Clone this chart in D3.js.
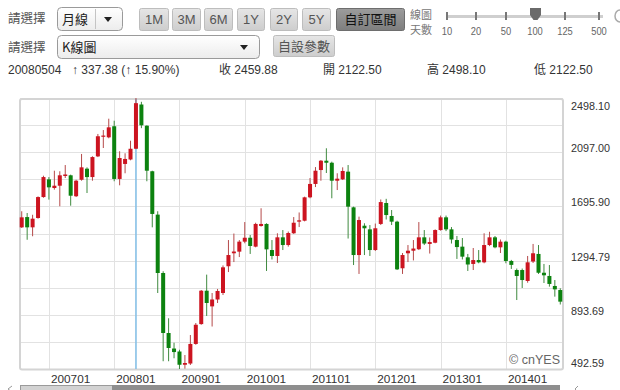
<!DOCTYPE html>
<html><head><meta charset="utf-8">
<script src="https://cdn.jsdelivr.net/npm/d3@7/dist/d3.min.js"></script>
<style>
html,body{margin:0;padding:0;background:#fff;}
svg{display:block;}
text{font-family:"Liberation Sans",Arial,"Noto Sans CJK TC",sans-serif;}
.cjk{font-family:"Noto Sans CJK TC","Liberation Sans",sans-serif;}
</style></head><body>
<svg id="c" width="620" height="390"></svg>
<script>
// ---------- data ----------
const months = ["200608","200609","200610","200611","200612",
"200701","200702","200703","200704","200705","200706","200707","200708","200709","200710","200711","200712",
"200801","200802","200803","200804","200805","200806","200807","200808","200809","200810","200811","200812",
"200901","200902","200903","200904","200905","200906","200907","200908","200909","200910","200911","200912",
"201001","201002","201003","201004","201005","201006","201007","201008","201009","201010","201011","201012",
"201101","201102","201103","201104","201105","201106","201107","201108","201109","201110","201111","201112",
"201201","201202","201203","201204","201205","201206","201207","201208","201209","201210","201211","201212",
"201301","201302","201303","201304","201305","201306","201307","201308","201309","201310","201311","201312",
"201401","201402","201403","201404","201405","201406","201407","201408","201409","201410","201411"];
const openV  = [1541,1617,1541,1610,1765,1896,1832,1849,1921,1926,1771,1893,1975,1913,2066,2214,2207,2289,1899,2010,2043,2122.5,2450,2293,1956,1635,1203,759,644,622,524,533,678,825,1072,956,1007,1055,1253,1349,1361,1435,1464,1398,1551,1566,1373,1329,1467,1410,1497,1583,1590,1763,1862,1965,2034,2019,1886,1896,1953,1689,1336,1553,1526,1373,1566,1721,1625,1583,1238,1349,1368,1379,1467,1418,1427,1521,1615,1526,1447,1398,1319,1270,1299,1282,1410,1467,1393,1435,1292,1225,1225,1144,1288,1344,1205,1181,1107,1077];
const highV  = [1660,1647,1634,1770,1923,1913,1960,1956,2002,1931,1893,2084,1985,2067,2232,2261,2345,2330,2104,2089,2182,2498.10,2470,2296,1960,1660,1216,868,687,635,596,744,833,1077,1191,1055,1085,1259,1447,1495,1447,1580,1484,1575,1682,1571,1447,1497,1521,1510,1617,1651,1768,1906,1987,2039,2126,2027,1941,1985,2002,1694,1620,1571,1558,1569,1747,1752,1669,1590,1351,1410,1447,1580,1521,1466,1526,1628,1628,1543,1477,1462,1344,1388,1373,1497,1508,1477,1451,1442,1300,1236,1236,1329,1418,1410,1270,1262,1151,1090];
const lowV   = [1536,1449,1475,1605,1760,1746,1820,1697,1906,1701,1765,1886,1795,1886,2061,2128,2200,1882,1852,1941,2037,2122.5,2275,1882,1541,1055,550,550,572,492.59,495,522,672,820,885,807,981,1040,1210,1284,1321,1423,1344,1393,1546,1218,1303,1277,1373,1398,1492,1543,1585,1756,1839,1886,1943,1756,1817,1891,1458,1262,1196,1336,1329,1366,1558,1599,1558,1225,1196,1284,1296,1373,1410,1347,1423,1516,1513,1421,1307,1303,1218,1225,1275,1275,1402,1386,1351,1275,1233,1003,1092,1131,1277,1196,1129,1102,1028,970];
const closeV = [1615,1541,1605,1765,1913,1837,1849,1926,1932,1775,1886,1985,1913,2061,2215,2220,2281,1899,2054,2047,2122.5,2459.88,2296,1960,1640,1203,759,648,618,524,537,678,820,1072,981,1007,1070,1245,1336,1362,1435,1464,1403,1566,1566,1378,1329,1467,1410,1499,1575,1593,1763,1862,1960,2034,2019,1886,1901,1958,1694,1336,1595,1534,1373,1534,1728,1632,1583,1230,1336,1368,1384,1467,1421,1432,1521,1615,1526,1451,1395,1324,1266,1299,1282,1410,1467,1393,1435,1292,1263,1181,1151,1282,1349,1205,1186,1122,1082,991];
const yTickValues = [2498.10, 2097.00, 1695.90, 1294.79, 893.69, 492.59];
const yTickLabels = ["2498.10","2097.00","1695.90","1294.79","893.69","492.59"];
const xTickLabels = ["200701","200801","200901","201001","201101","201201","201301","201401"];
const selectedMonth = "200805";
const infoDate = "20080504";
const infoChange = "↑ 337.38 (↑ 15.90%)";
const infoClose = "收 2459.88", infoOpen = "開 2122.50", infoHigh = "高 2498.10", infoLow = "低 2122.50";
const periodButtons = ["1M","3M","6M","1Y","2Y","5Y"];
const sliderLabels = ["10","20","50","100","125","500"];

// ---------- setup ----------
const svg = d3.select("#c");
const defs = svg.append("defs");
function grad(id, c1, c2){
  const g = defs.append("linearGradient").attr("id",id).attr("x1",0).attr("y1",0).attr("x2",0).attr("y2",1);
  g.append("stop").attr("offset","0%").attr("stop-color",c1);
  g.append("stop").attr("offset","100%").attr("stop-color",c2);
}
grad("gBtn","#e6e6e6","#cdcdcd");
grad("gBtnDark","#9c9c9c","#7e7e7e");
grad("gSel","#ffffff","#ececec");

// ---------- toolbar ----------
const tb = svg.append("g");
function label(x,y,t,size,fill,cls,anchor){
  return tb.append("text").attr("x",x).attr("y",y).text(t).attr("font-size",size).attr("fill",fill)
    .attr("class",cls||null).attr("text-anchor",anchor||"start");
}
function arrow(ax,ay){
  tb.append("path").attr("d",`M${ax-4},${ay-2}L${ax+4},${ay-2}L${ax},${ay+3}Z`).attr("fill","#222");
}
// row 1
label(8,23,"請選擇",12.5,"#555","cjk");
tb.append("rect").attr("x",57.5).attr("y",7.5).attr("width",65).attr("height",23).attr("rx",4)
  .attr("fill","url(#gSel)").attr("stroke","#9a9a9a");
label(62,23.5,"月線",13,"#222","cjk");
tb.append("line").attr("x1",95.5).attr("x2",95.5).attr("y1",9).attr("y2",29).attr("stroke","#c4c4c4");
arrow(108,19);
const btnX = [[139,168],[172,200],[204,232],[237,264],[270,297],[302,330]];
periodButtons.forEach((b,i)=>{
  const [a,c] = btnX[i];
  tb.append("rect").attr("x",a+0.5).attr("y",8.5).attr("width",c-a).attr("height",22).attr("rx",2)
    .attr("fill","url(#gBtn)").attr("stroke","#bdbdbd");
  label((a+c)/2+0.5,24,b,13,"#555",null,"middle");
});
tb.append("rect").attr("x",336.5).attr("y",8.5).attr("width",68).attr("height",22).attr("rx",2)
  .attr("fill","url(#gBtnDark)").attr("stroke","#6e6e6e");
label(370.5,24,"自訂區間",13,"#111","cjk","middle");
label(410,19,"線圖",11,"#777","cjk");
label(410,33.5,"天數",11,"#777","cjk");
// slider
const sliderX = [447,476,506,535,565,599];
tb.append("rect").attr("x",446).attr("y",15).attr("width",157).attr("height",3).attr("fill","#cfcfcf");
sliderX.forEach((sx,i)=>{
  tb.append("rect").attr("x",sx-1).attr("y",12).attr("width",2).attr("height",8).attr("fill","#777");
  tb.append("text").attr("x",sx).attr("y",35).attr("text-anchor","middle").attr("font-size",10.5)
    .attr("fill","#666").attr("textLength",sliderLabels[i].length*5.2).attr("lengthAdjust","spacingAndGlyphs")
    .text(sliderLabels[i]);
});
tb.append("path").attr("d","M530,8L541,8L541,15L537.5,20L533.5,20L530,15Z").attr("fill","#6a6a6a");
tb.append("path").attr("d","M620,10A5,6 0 0 0 620,22").attr("fill","none").attr("stroke","#aaa").attr("stroke-width",1.5);
// row 2
label(8,52,"請選擇",12.5,"#555","cjk");
tb.append("rect").attr("x",57.5).attr("y",35.5).attr("width",202).attr("height",23).attr("rx",4)
  .attr("fill","url(#gSel)").attr("stroke","#9a9a9a");
label(62,52,"K線圖",13,"#222","cjk");
arrow(244,47);
tb.append("rect").attr("x",273.5).attr("y",35.5).attr("width",61).attr("height",21).attr("rx",2)
  .attr("fill","url(#gBtn)").attr("stroke","#bdbdbd");
label(304,51,"自設參數",13,"#555","cjk","middle");
// row 3
label(8,74,infoDate,12,"#333");
label(72,74,infoChange,12,"#333");
label(219,74,infoClose,12,"#333");
label(323,74,infoOpen,12,"#333");
label(427,74,infoHigh,12,"#333");
label(534,74,infoLow,12,"#333");

// ---------- chart ----------
const pL = 20, pR = 563, pT = 99, pB = 369;
const x = d3.scaleBand().domain(months).range([19, 563]).padding(0);
const y = d3.scaleLinear().domain([492.59, 2498.10]).range([369, 98]);
const cx = m => x(m) + x.bandwidth()/2;

const chart = svg.append("g");
const gridVals = d3.range(11).map(k => 492.59 + k*(2498.10-492.59)/10);
chart.selectAll(".hg").data(gridVals).join("line")
  .attr("x1",pL).attr("x2",pR)
  .attr("y1",d=>Math.round(y(d))+0.5).attr("y2",d=>Math.round(y(d))+0.5)
  .attr("stroke","#e2e2e2").attr("stroke-width",1);
chart.selectAll(".vg").data(xTickLabels).join("line")
  .attr("x1",d=>Math.round(cx(d))+0.5).attr("x2",d=>Math.round(cx(d))+0.5)
  .attr("y1",pT).attr("y2",pB)
  .attr("stroke","#e2e2e2").attr("stroke-width",1);
chart.append("rect").attr("x",pL).attr("y",pT).attr("width",pR-pL).attr("height",pB-pT+0.5)
  .attr("rx",2).attr("fill","none").attr("stroke","#d4d4d4").attr("stroke-width",2);

chart.append("line").attr("x1",cx(selectedMonth)).attr("x2",cx(selectedMonth))
  .attr("y1",pT).attr("y2",pB).attr("stroke","#86c0e6").attr("stroke-width",1.6);

const data = months.map((m,i)=>({m, o:openV[i], h:highV[i], l:lowV[i], c:closeV[i]}));
const up = d => d.c >= d.o;
const cg = chart.append("g");
cg.selectAll(".wick").data(data).join("line")
  .attr("x1",d=>cx(d.m)).attr("x2",d=>cx(d.m))
  .attr("y1",d=>y(d.h)).attr("y2",d=>y(d.l))
  .attr("stroke",d=>up(d)?"#b54a4a":"#3f8a3f").attr("stroke-width",1);
cg.selectAll(".body").data(data).join("rect")
  .attr("x",d=>cx(d.m)-2).attr("width",4)
  .attr("y",d=>y(Math.max(d.o,d.c)))
  .attr("height",d=>Math.max(1.2, Math.abs(y(d.o)-y(d.c))))
  .attr("fill",d=>up(d)?"#cc1420":"#0c820f");

svg.selectAll(".yl").data(yTickValues).join("text")
  .attr("x",571).attr("y",(d)=>Math.max(110, Math.min(366.5, y(d))))
  .attr("font-size",10.8).attr("fill","#333")
  .text((d,i)=>yTickLabels[i]);
svg.selectAll(".xl").data(xTickLabels).join("text")
  .attr("x",d=>cx(d)+2).attr("y",383)
  .attr("font-size",11.8).attr("fill","#333")
  .text(d=>d);

svg.append("text").attr("x",560).attr("y",364).attr("text-anchor","end")
  .attr("font-size",12.5).attr("fill","#666").text("© cnYES");

svg.append("rect").attr("x",20.5).attr("y",385.5).attr("width",92).attr("height",8)
  .attr("fill","#d2d2d2").attr("stroke","#9a9a9a");
svg.append("rect").attr("x",112).attr("y",385).attr("width",448).attr("height",9).attr("fill","#8e8e8e");
svg.append("path").attr("d","M12,386L8,389L12,392").attr("fill","none").attr("stroke","#999");
svg.append("path").attr("d","M578,386L575,389L578,392").attr("fill","none").attr("stroke","#999");
</script>
</body></html>
